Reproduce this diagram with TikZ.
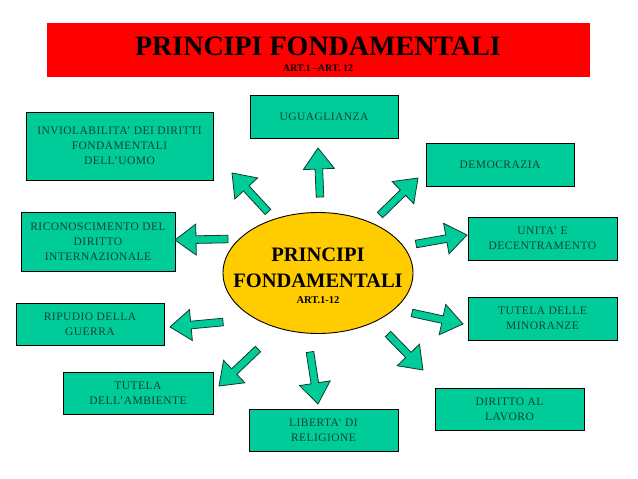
\documentclass[tikz,border=0pt]{standalone}
\usepackage{fontspec}
\setmainfont{Liberation Serif}
\usetikzlibrary{calc,shapes.geometric}
\definecolor{boxfill}{HTML}{00CC99}
\definecolor{boxtext}{HTML}{0E4434}
\definecolor{ellfill}{HTML}{FFCC00}
\definecolor{titlered}{HTML}{FF0000}
\definecolor{arrline}{HTML}{0F3A2E}
\newcommand\blockarrow[2]{%
  \path ($(#2)!21pt!(#1)$) coordinate (hb);
  \draw[barrow] ($(#1)!3.8pt!90:(#2)$) -- ($(hb)!3.8pt!90:(#2)$) -- ($(hb)!15.5pt!90:(#2)$) -- (#2)
    -- ($(hb)!15.5pt!-90:(#2)$) -- ($(hb)!3.8pt!-90:(#2)$) -- ($(#1)!3.8pt!-90:(#2)$) -- cycle;}
\begin{document}
\begin{tikzpicture}[x=1pt,y=-1pt,
  box/.style={draw=black, line width=0.9pt, fill=boxfill, inner sep=0pt, align=center,
    text=boxtext, font=\fontsize{11.5}{15}\selectfont\addfontfeature{LetterSpace=4}},
  barrow/.style={draw=arrline, line width=0.8pt, fill=boxfill, line join=miter}]
\useasboundingbox (0,0) rectangle (638,479);
\fill[white] (0,0) rectangle (638,479);
% title
\node[fill=titlered, minimum width=543, minimum height=54, inner sep=0pt] (title) at (318.5,50) {};
\node[font=\fontsize{28}{30}\selectfont\bfseries] (tt) at (318,46) {PRINCIPI FONDAMENTALI};
\node[font=\fontsize{10}{11}\selectfont\bfseries] (ts) at (318,68) {ART.1 –ART. 12};
% centre
\node[ellipse, draw=black, line width=0.9pt, fill=ellfill, minimum width=190, minimum height=121, inner sep=0pt] (c) at (318,273) {};
\node[font=\fontsize{20.5}{26}\selectfont\bfseries, align=center] (ct) at (318,268) {PRINCIPI\\FONDAMENTALI};
\node[font=\fontsize{10.5}{12}\selectfont\bfseries] (cs) at (318,300) {ART.1-12};
% boxes
\node[box, minimum width=187, minimum height=68] (inv) at (119.5,146) {INVIOLABILITA’ DEI DIRITTI\\FONDAMENTALI\\DELL’UOMO};
\node[box, minimum width=148, minimum height=43] (ugu) at (324,116.5) {UGUAGLIANZA};
\node[box, minimum width=148, minimum height=43] (dem) at (500,164.5) {DEMOCRAZIA};
\node[box, minimum width=149, minimum height=43] (uni) at (542.5,238.5) {UNITA’ E\\DECENTRAMENTO};
\node[box, minimum width=154, minimum height=59] (ric) at (98,241.5) {RICONOSCIMENTO DEL\\DIRITTO\\INTERNAZIONALE};
\node[box, minimum width=148, minimum height=42] (rip) at (90,324) {RIPUDIO DELLA\\GUERRA};
\node[box, minimum width=150, minimum height=42] (amb) at (138,393) {TUTELA\\DELL’AMBIENTE};
\node[box, minimum width=149, minimum height=42] (lib) at (323.5,430) {LIBERTA’ DI\\RELIGIONE};
\node[box, minimum width=149, minimum height=43] (min) at (542.5,318.5) {TUTELA DELLE\\MINORANZE};
\node[box, minimum width=149, minimum height=42] (lav) at (509.5,409) {DIRITTO AL\\LAVORO};
% arrows
\coordinate (t1) at (268,212); \coordinate (h1) at (232,173);
\coordinate (t2) at (320,197); \coordinate (h2) at (318,148);
\coordinate (t3) at (380,215); \coordinate (h3) at (418,178);
\coordinate (t4) at (416,244); \coordinate (h4) at (467,235);
\coordinate (t5) at (228,239); \coordinate (h5) at (175,240);
\coordinate (t6) at (223,322); \coordinate (h6) at (170,327);
\coordinate (t7) at (258,349); \coordinate (h7) at (219,386);
\coordinate (t8) at (310,352); \coordinate (h8) at (318,404);
\coordinate (t9) at (388,334); \coordinate (h9) at (423,370);
\coordinate (t10) at (412,313); \coordinate (h10) at (463,324);
\blockarrow{t1}{h1}
\blockarrow{t2}{h2}
\blockarrow{t3}{h3}
\blockarrow{t4}{h4}
\blockarrow{t5}{h5}
\blockarrow{t6}{h6}
\blockarrow{t7}{h7}
\blockarrow{t8}{h8}
\blockarrow{t9}{h9}
\blockarrow{t10}{h10}
\end{tikzpicture}
\end{document}
